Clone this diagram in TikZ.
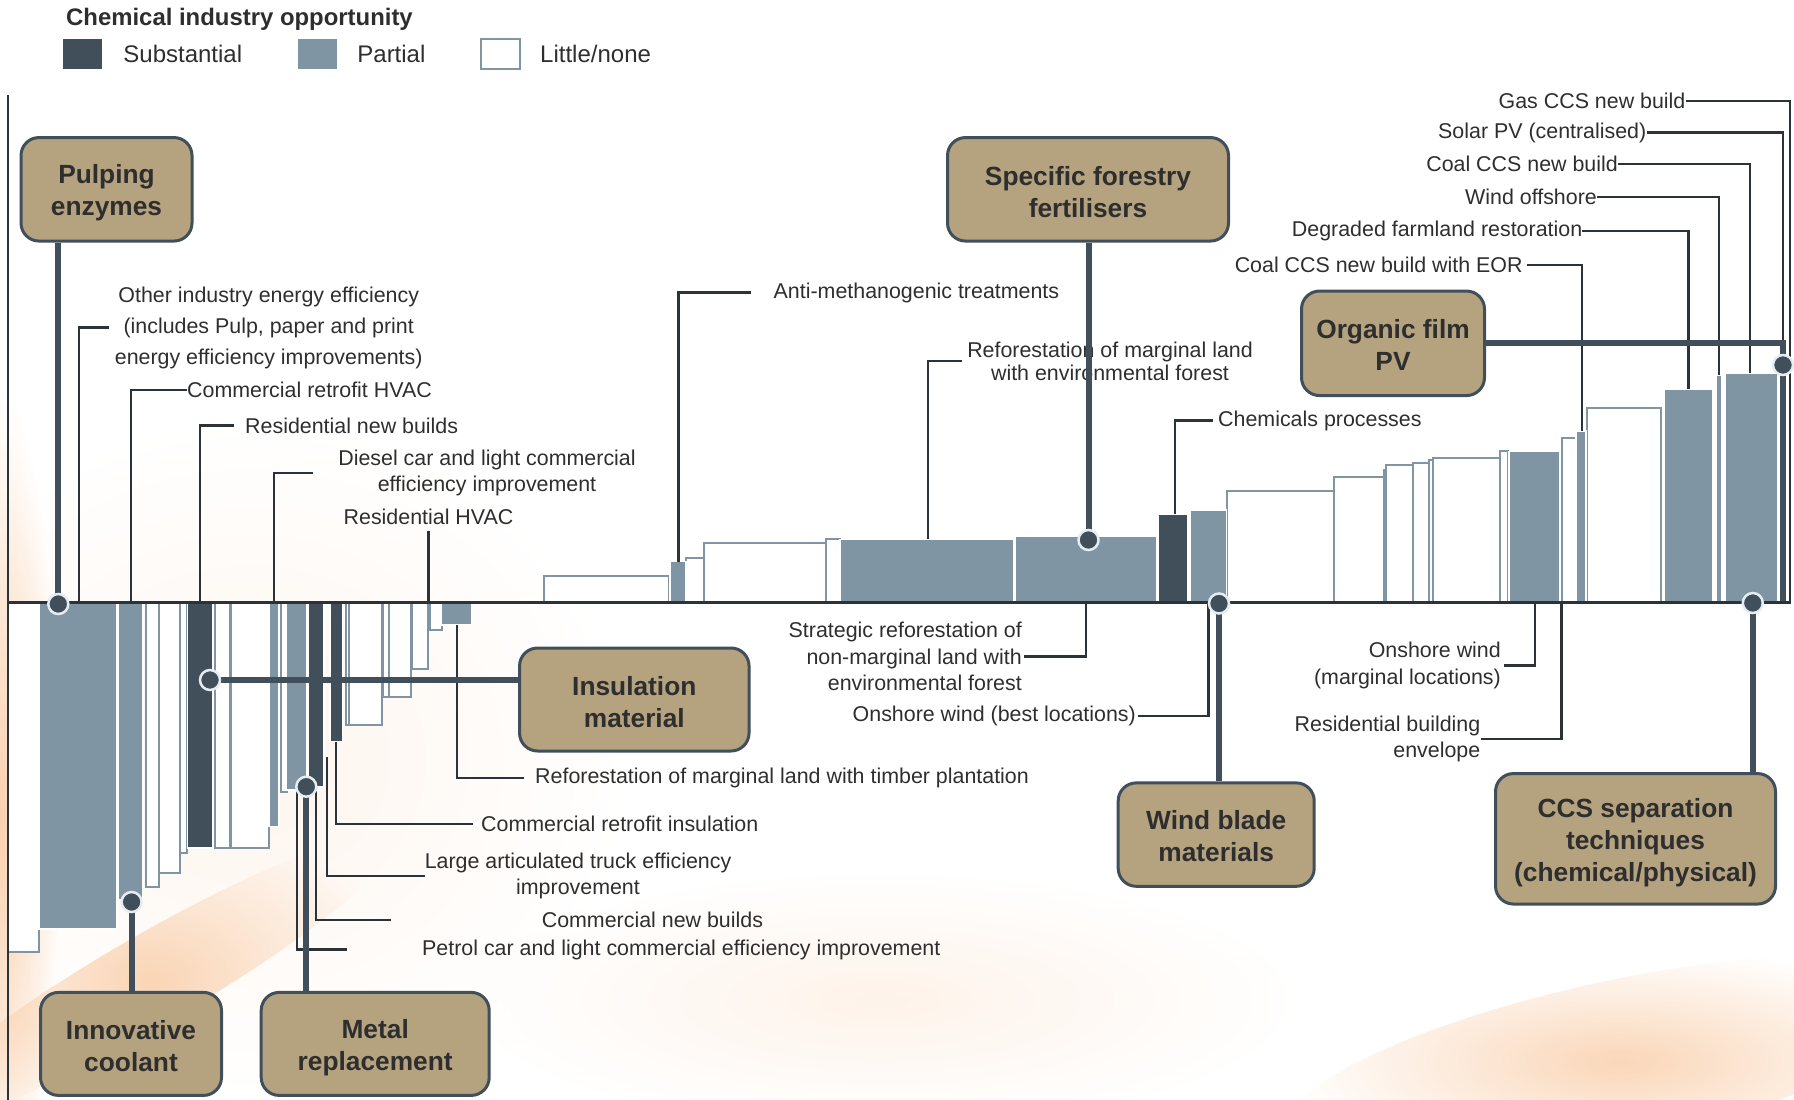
\documentclass[tikz,border=0pt]{standalone}
\usepackage{fontspec}
\setmainfont{Liberation Sans}
\usepackage{tikz}
\usetikzlibrary{positioning,calc,fadings}

\definecolor{subst}{HTML}{404F5A}
\definecolor{partl}{HTML}{8095A3}
\definecolor{oppfill}{HTML}{B5A27F}
\definecolor{leadc}{HTML}{2B3339}
\definecolor{txtc}{HTML}{2E2E2E}
\definecolor{washc}{HTML}{F5AE72}
\definecolor{ringc}{HTML}{E6EDF2}

\tikzfading[name=softedge, inner color=transparent!0, outer color=transparent!100]

\tikzset{
	barnone/.style={fill=white, draw=partl, line width=2pt},
	barpart/.style={fill=partl, draw=white, line width=1.2pt},
	barsubst/.style={fill=subst, draw=white, line width=1.2pt},
	lead/.style={draw=leadc, line width=2.4pt},
	conn/.style={draw=subst, line width=6pt},
	knob/.style={circle, fill=subst, draw=ringc, line width=2.5pt, minimum size=20pt, inner sep=0pt},
	opp/.style={draw=subst, line width=3pt, fill=oppfill, rounded corners=18pt, inner sep=0pt},
	opptxt/.style={align=center, inner sep=0pt, text=txtc, font=\bfseries\fontsize{26.3}{32}\selectfont},
	lbl/.style={inner sep=0pt, text=txtc, font=\fontsize{21.4}{26.3}\selectfont},
	keybox/.style={minimum width=39pt, minimum height=30pt, inner sep=0pt}
}

\begin{document}
\begin{tikzpicture}[x=1pt,y=-1pt]
	\useasboundingbox (0,0) rectangle (1794,1100);

	\fill[washc!50, path fading=softedge, opacity=0.25] (250,760) ellipse [x radius=380, y radius=340];
	\fill[washc, path fading=softedge, opacity=0.55] (0,820) ellipse [x radius=60, y radius=430];
	\fill[washc, path fading=softedge, opacity=0.5, rotate around={30:(150,980)}] (150,980) ellipse [x radius=280, y radius=45];
	\fill[washc, path fading=softedge, opacity=0.5, rotate around={12:(1620,1060)}] (1620,1060) ellipse [x radius=340, y radius=80];
	\fill[washc!60, path fading=softedge, opacity=0.25] (880,1000) ellipse [x radius=420, y radius=130];

	\node[anchor=west, inner sep=0pt, text=txtc, font=\bfseries\fontsize{23.9}{28}\selectfont] (legtitle) at (66,19) {Chemical industry opportunity};
	\node[keybox, fill=subst] (keysub) at (82.5,54) {};
	\node[lbl, font=\fontsize{24}{28}\selectfont, right=21pt of keysub] (keysubtxt) {Substantial};
	\node[keybox, fill=partl] (keypart) at (317.5,54) {};
	\node[lbl, font=\fontsize{24}{28}\selectfont, right=20pt of keypart] (keyparttxt) {Partial};
	\node[keybox, fill=white, draw=partl, line width=2pt] (keynone) at (500.5,54) {};
	\node[lbl, font=\fontsize{24}{28}\selectfont, right=19pt of keynone] (keynonetxt) {Little/none};

	\foreach \a/\b/\h in {8/39/952, 145.7/159.3/886.7, 159.3/180/873, 180/186.7/853, 214.5/230/848, 230.5/269/848,
		281.2/286.5/791.7, 346/349/725, 349/381.7/725, 383/389/696.7, 389/410.7/696.7, 411.7/428.3/669.3, 430/441.7/630,
		543.6/668.7/576, 686/704/558, 704/825.8/542.7, 825.8/840/539.3, 1226.5/1334/491, 1334/1383.6/477.3,
		1383.6/1386/470, 1386/1413/465, 1413/1429.4/463.3, 1429.4/1432.5/460, 1432.5/1500.3/458.3, 1500.3/1508/450.7,
		1561.7/1575.5/438.3, 1587/1661/407.7}
		\draw[barnone] (\a,602) rectangle (\b,\h);
	\foreach \a/\b/\h in {39/117/929, 118/143/900, 269/279/826.7, 286.7/306.7/790, 441.7/471.7/625, 670/686/561.7,
		840/1014/539.3, 1015.5/1157/536.7, 1190/1226.5/510, 1509/1560/451.7, 1576/1586/431, 1664.7/1713/389.3,
		1716/1722/375, 1725/1777.3/373.3}
		\draw[barpart] (\a,602) rectangle (\b,\h);
	\foreach \a/\b/\h in {187.7/213/848, 308/324/786.7, 330/342.3/741.7, 1158/1188/514.3, 1779/1787/356}
		\draw[barsubst] (\a,602) rectangle (\b,\h);

	\draw[leadc, line width=2pt] (8,95) -- (8,1100);
	\draw[leadc, line width=3pt] (8,602) -- (1791,602);

	\coordinate (c-oie) at (79,602);
	\coordinate (c-crh) at (131,602);
	\coordinate (c-rnb) at (200,602);
	\coordinate (c-dsl) at (274,602);
	\coordinate (c-rhv) at (428.5,602);
	\coordinate (c-tim) at (457,625);
	\coordinate (c-cri) at (336,742);
	\coordinate (c-lat) at (326.7,757);
	\coordinate (c-cnb) at (315.7,787);
	\coordinate (c-pet) at (296.7,790);
	\coordinate (c-anti) at (678.5,561.7);
	\coordinate (c-refe) at (928,539.3);
	\coordinate (c-chem) at (1175,514.3);
	\coordinate (c-gas) at (1790,602);
	\coordinate (c-spv) at (1783,356);
	\coordinate (c-ccn) at (1750,373.3);
	\coordinate (c-wof) at (1719,375);
	\coordinate (c-dfr) at (1688.6,389.3);
	\coordinate (c-eor) at (1581.8,431);
	\coordinate (c-str) at (1086,602);
	\coordinate (c-onb) at (1208.4,602);
	\coordinate (c-onm) at (1535,602);
	\coordinate (c-rbe) at (1561.5,602);

	\node[lbl, align=center, font=\fontsize{21.4}{31}\selectfont] (oie) at (268.7,327.5) {Other industry energy efficiency\\(includes Pulp, paper and print\\energy efficiency improvements)};
	\node[lbl, anchor=west] (crh) at (187,390) {Commercial retrofit HVAC};
	\node[lbl, anchor=west] (rnb) at (245,425.6) {Residential new builds};
	\node[lbl, align=center] (dsl) at (487,473) {Diesel car and light commercial\\efficiency improvement};
	\node[lbl] (rhv) at (428.5,517) {Residential HVAC};
	\node[lbl, anchor=west] (tim) at (535,778) {Reforestation of marginal land with timber plantation};
	\node[lbl, anchor=west] (cri) at (481,824) {Commercial retrofit insulation};
	\node[lbl, align=center] (lat) at (578,876) {Large articulated truck efficiency\\improvement};
	\node[lbl, anchor=west] (cnb) at (541.6,920) {Commercial new builds};
	\node[lbl, anchor=west] (pet) at (422,949.5) {Petrol car and light commercial efficiency improvement};
	\node[lbl, anchor=west] (anti) at (773.5,292.5) {Anti-methanogenic treatments};
	\node[lbl, align=center, font=\fontsize{21.4}{23}\selectfont] (refe) at (1110,361) {Reforestation of marginal land\\with environmental forest};
	\node[lbl, anchor=west] (chem) at (1218,420.5) {Chemicals processes};
	\node[lbl, anchor=east] (gas) at (1685.6,101) {Gas CCS new build};
	\node[lbl, anchor=east] (spv) at (1646.5,132.5) {Solar PV (centralised)};
	\node[lbl, anchor=east] (ccn) at (1618,164) {Coal CCS new build};
	\node[lbl, anchor=east] (wof) at (1597,196.7) {Wind offshore};
	\node[lbl, anchor=east] (dfr) at (1582.4,230.7) {Degraded farmland restoration};
	\node[lbl, anchor=east] (eor) at (1522.8,265) {Coal CCS new build with EOR};
	\node[lbl, anchor=east, align=right] (str) at (1022,656.6) {Strategic reforestation of\\non-marginal land with\\environmental forest};
	\node[lbl, anchor=east] (onb) at (1136,716) {Onshore wind (best locations)};
	\node[lbl, anchor=east, align=right] (onm) at (1501,665.5) {Onshore wind\\(marginal locations)};
	\node[lbl, anchor=east, align=right] (rbe) at (1480.5,739) {Residential building\\envelope};

	\draw[lead] (c-oie) |- ([xshift=-6pt]oie.west);
	\draw[lead] (c-crh) |- (crh.west);
	\draw[lead] (c-rnb) |- ([xshift=-11pt]rnb.west);
	\draw[lead] (c-dsl) |- ([xshift=-25pt]dsl.west);
	\draw[lead] (c-rhv) -- ([yshift=-6pt]rhv.south);
	\draw[lead] (c-tim) |- ([xshift=-11pt]tim.west);
	\draw[lead] (c-cri) |- ([xshift=-8pt]cri.west);
	\draw[lead] (c-lat) |- (lat.west);
	\draw[lead] (c-cnb) |- ([xshift=-151pt]cnb.west);
	\draw[lead] (c-pet) |- ([xshift=-75pt]pet.west);
	\draw[lead] (c-anti) |- ([xshift=-23pt]anti.west);
	\draw[lead] (c-refe) |- ([xshift=-5pt]refe.west);
	\draw[lead] (c-chem) |- ([xshift=-5pt]chem.west);
	\draw[lead] (c-gas) |- (gas.east);
	\draw[lead] (c-spv) |- (spv.east);
	\draw[lead] (c-ccn) |- (ccn.east);
	\draw[lead] (c-wof) |- (wof.east);
	\draw[lead] (c-dfr) |- (dfr.east);
	\draw[lead] (c-eor) |- ([xshift=4pt]eor.east);
	\draw[lead] (c-str) |- ([xshift=2pt]str.east);
	\draw[lead] (c-onb) |- ([xshift=1.5pt]onb.east);
	\draw[lead] (c-onm) |- ([xshift=2.5pt]onm.east);
	\draw[lead] (c-rbe) |- (rbe.east);

	\node[opp, minimum width=171, minimum height=103.5] (pulp) at (106.5,189.3) {};
	\node[opp, minimum width=281, minimum height=103.5] (forest) at (1088,189.3) {};
	\node[opp, minimum width=183, minimum height=104.5] (organic) at (1393,343.3) {};
	\node[opp, minimum width=229.5, minimum height=103] (insul) at (634.3,699.5) {};
	\node[opp, minimum width=196, minimum height=103.4] (wind) at (1216.2,834.6) {};
	\node[opp, minimum width=280, minimum height=130.5] (ccs) at (1635.5,838.8) {};
	\node[opp, minimum width=181, minimum height=103] (cool) at (131,1043.9) {};
	\node[opp, minimum width=228, minimum height=103, right=36.7pt of cool] (metal) {};

	\node[opptxt] (pulp-t) at ([yshift=-3.5pt]pulp.center) {Pulping\\enzymes};
	\node[opptxt] (forest-t) at ([yshift=-2.5pt]forest.center) {Specific forestry\\fertilisers};
	\node[opptxt] (organic-t) at ([yshift=-1.5pt]organic.center) {Organic film\\PV};
	\node[opptxt] (insul-t) at ([yshift=-2.5pt]insul.center) {Insulation\\material};
	\node[opptxt] (wind-t) at ([yshift=-1.5pt]wind.center) {Wind blade\\materials};
	\node[opptxt] (ccs-t) at ([yshift=-3.5pt]ccs.center) {CCS separation\\techniques\\(chemical/physical)};
	\node[opptxt] (cool-t) at ([yshift=-2.5pt]cool.center) {Innovative\\coolant};
	\node[opptxt] (metal-t) at ([yshift=-4pt]metal.center) {Metal\\replacement};

	\coordinate (p-pulp) at (58.3,604);
	\coordinate (p-cool) at (131.6,902);
	\coordinate (p-insul) at (210,680);
	\coordinate (p-metal) at (306.3,786.7);
	\coordinate (p-forest) at (1088.5,540);
	\coordinate (p-wind) at (1219,603.5);
	\coordinate (p-ccs) at (1752.8,603);
	\coordinate (p-organic) at (1783,365);

	\draw[conn] (p-pulp) -- (p-pulp |- pulp.south);
	\draw[conn] (p-cool) -- (p-cool |- cool.north);
	\draw[conn] (p-insul) -- (p-insul -| insul.west);
	\draw[conn] (p-metal) -- (p-metal |- metal.north);
	\draw[conn] (p-forest) -- (p-forest |- forest.south);
	\draw[conn] (p-wind) -- (p-wind |- wind.north);
	\draw[conn] (p-ccs) -- (p-ccs |- ccs.north);
	\draw[conn] (organic.east) -| (p-organic);

	\node[knob] (k-pulp) at (p-pulp) {};
	\node[knob] (k-cool) at (p-cool) {};
	\node[knob] (k-insul) at (p-insul) {};
	\node[knob] (k-metal) at (p-metal) {};
	\node[knob] (k-forest) at (p-forest) {};
	\node[knob] (k-wind) at (p-wind) {};
	\node[knob] (k-ccs) at (p-ccs) {};
	\node[knob] (k-organic) at (p-organic) {};
\end{tikzpicture}
\end{document}
